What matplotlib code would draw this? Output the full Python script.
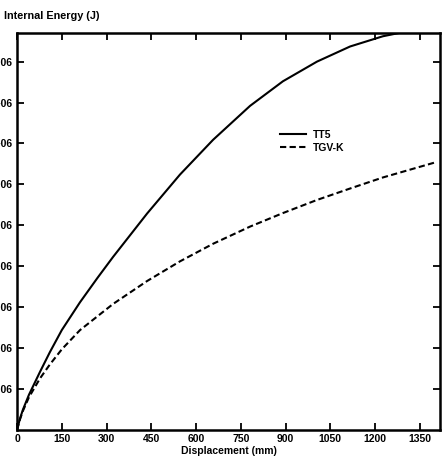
import numpy as np
import matplotlib
matplotlib.use("Agg")
import matplotlib.pyplot as plt

# values (displacement in mm, energy in J)
tt5_x = [0, 10, 20, 40, 77, 110, 150, 211, 270, 322, 436, 546, 657, 781, 891, 1005, 1116, 1226, 1307, 1400]
tt5_y = [0, 0.28e6, 0.50e6, 0.86e6, 1.42e6, 1.90e6, 2.44e6, 3.12e6, 3.72e6, 4.23e6, 5.29e6,
         6.24e6, 7.09e6, 7.92e6, 8.52e6, 9.00e6, 9.37e6, 9.62e6, 9.74e6, 9.85e6]
tgv_x = [0, 10, 20, 40, 77, 110, 150, 211, 322, 436, 546, 657, 781, 891, 1005, 1116, 1226, 1407]
tgv_y = [0, 0.26e6, 0.47e6, 0.80e6, 1.26e6, 1.60e6, 1.97e6, 2.44e6, 3.08e6, 3.64e6,
         4.12e6, 4.55e6, 4.97e6, 5.30e6, 5.62e6, 5.90e6, 6.17e6, 6.55e6]
x_ticks = [0, 150, 300, 450, 600, 750, 900, 1050, 1200, 1350]
y_ticks = [1e6, 2e6, 3e6, 4e6, 5e6, 6e6, 7e6, 8e6, 9e6]
y_labels = ['%.1fE+06' % (v / 1e6) for v in y_ticks]

plt.rcParams['font.family'] = ['Liberation Sans', 'DejaVu Sans']
plt.rcParams['font.weight'] = 'bold'

fig = plt.figure(figsize=(4.43, 4.62), dpi=100)
ax = fig.add_axes([0.0384, 0.0693, 0.9546, 0.8593])

ax.plot(tt5_x, tt5_y, 'k-', lw=1.5, label='TT5')
ax.plot(tgv_x, tgv_y, 'k--', lw=1.5, dashes=(3, 1.6), label='TGV-K')

ax.set_xlim(0, 1417)
ax.set_ylim(0, 9.7e6)
ax.set_xticks(x_ticks)
ax.set_xticklabels([str(v) for v in x_ticks], fontsize=7.5, fontweight='bold')
ax.set_yticks(y_ticks)
ax.set_yticklabels(y_labels, fontsize=7.5, fontweight='bold')
ax.tick_params(direction='in', length=5, width=1.3, top=True, right=True, pad=3)
for s in ax.spines.values():
    s.set_linewidth(1.8)

ax.set_xlabel('Displacement (mm)', fontsize=7.5, fontweight='bold', labelpad=1.5)
fig.text(0.01, 0.965, 'Internal Energy (J)', fontsize=7.8, fontweight='bold', va='center')

leg = ax.legend(loc='upper left', bbox_to_anchor=(0.6, 0.78), frameon=False,
                fontsize=7.5, handlelength=2.5, handletextpad=0.6, labelspacing=0.3)

fig.savefig('out.png', dpi=100)
